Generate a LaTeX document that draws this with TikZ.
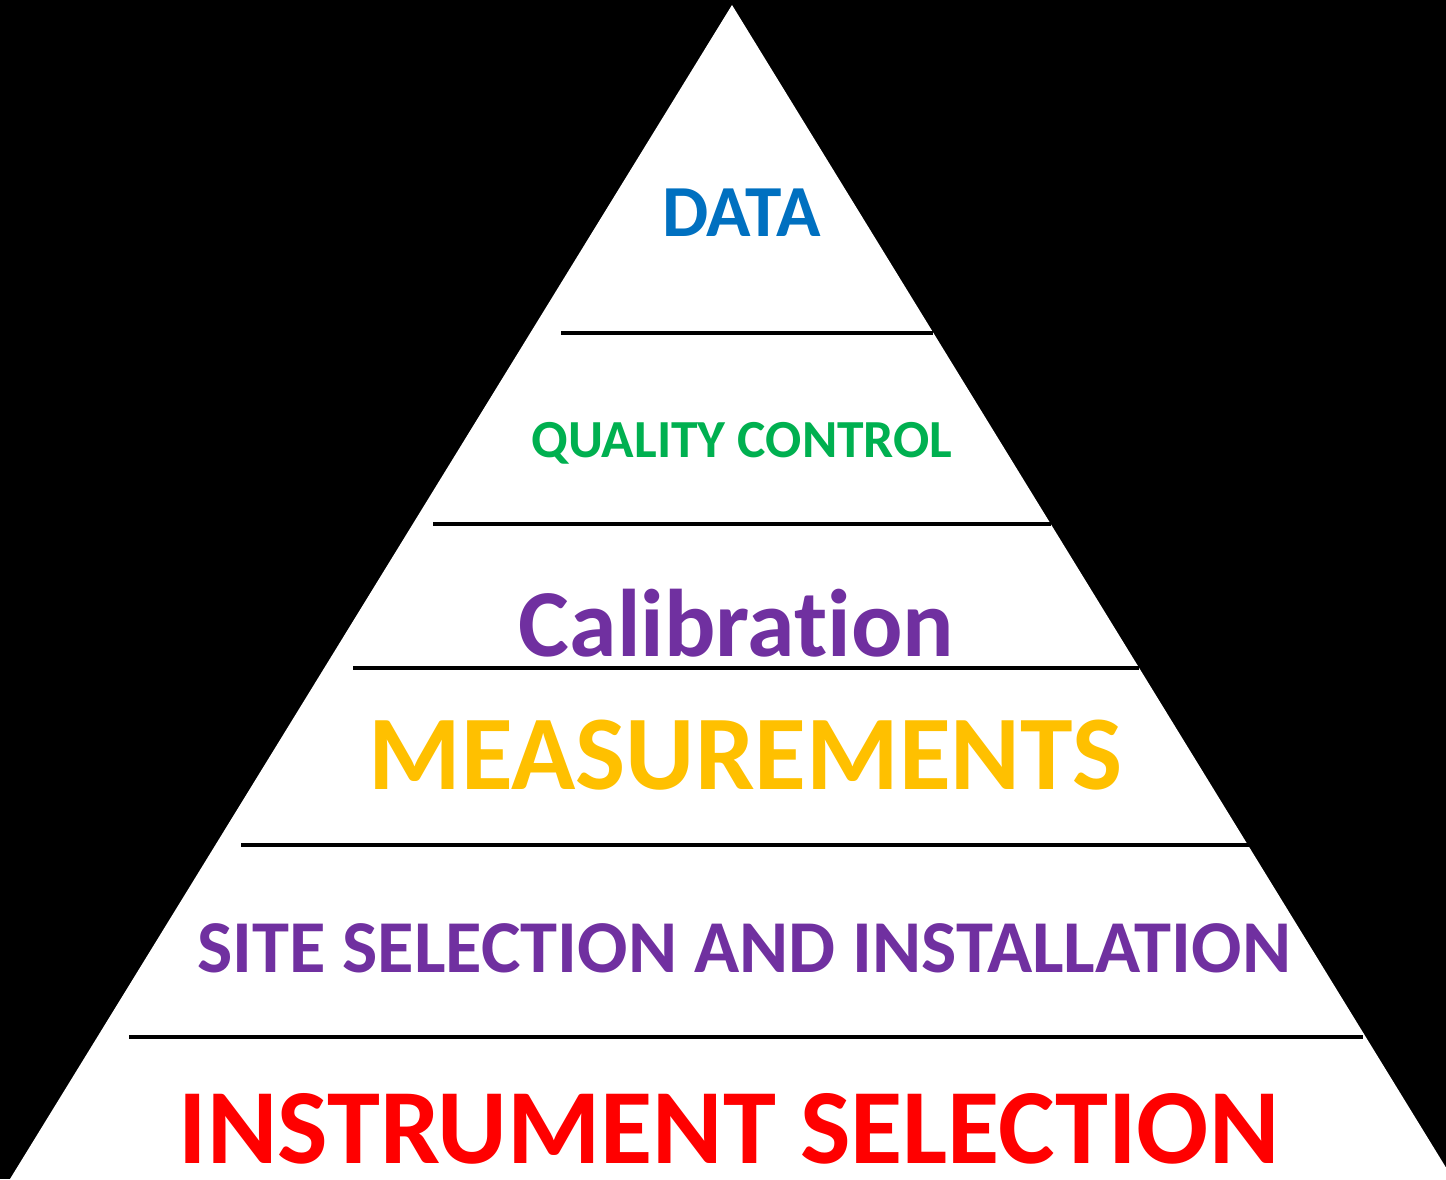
\documentclass[tikz,border=0pt]{standalone}
\usepackage{fontspec}
\setmainfont{Carlito}[Ligatures=NoCommon]
\usepackage{tikz}
\usetikzlibrary{positioning}

\definecolor{dblue}{RGB}{0,112,192}
\definecolor{qgreen}{RGB}{0,176,80}
\definecolor{cpurple}{RGB}{112,48,160}
\definecolor{mgold}{RGB}{255,192,0}
\definecolor{ired}{RGB}{255,0,0}

\begin{document}
\begin{tikzpicture}[x=0.5pt,y=0.5pt]
	\tikzstyle{level}=[anchor=base,inner sep=0pt,font=\bfseries]
	\tikzstyle{sep}=[line width=2pt,black]
		\useasboundingbox (0,0) rectangle (1446,1179);
		\clip (0,0) rectangle (1446,1179);
		\fill[black] (0,0) rectangle (1446,1179);
		% the pyramid
		\coordinate (top) at (732,1174);
		\coordinate (bl) at (10,0);
		\coordinate (br) at (1453,0);
		\fill[white] (bl) -- (top) -- (br) -- cycle;
		% separators between the levels
		\coordinate (s1a) at (561,846);
		\coordinate (s1b) at (933,846);
		\coordinate (s2a) at (433,655);
		\coordinate (s2b) at (1051,655);
		\coordinate (s3a) at (353,511);
		\coordinate (s3b) at (1139,511);
		\coordinate (s4a) at (241,334);
		\coordinate (s4b) at (1249,334);
		\coordinate (s5a) at (129,142);
		\coordinate (s5b) at (1363,142);
			\draw[sep] (s1a) -- (s1b);
			\draw[sep] (s2a) -- (s2b);
			\draw[sep] (s3a) -- (s3b);
			\draw[sep] (s4a) -- (s4b);
			\draw[sep] (s5a) -- (s5b);
		% level labels
		\node[level, text=dblue, font=\bfseries\fontsize{36.7}{40}\selectfont] (data) at (741.5,942) {DATA};
		\node[level, text=qgreen, font=\bfseries\fontsize{26.8}{30}\selectfont] (qc) at (742,721) {QUALITY CONTROL};
		\node[level, text=cpurple, font=\bfseries\fontsize{48}{54}\selectfont] (cal) at (736.5,522) {Calibration};
		\node[level, text=mgold, font=\bfseries\fontsize{53}{58}\selectfont] (meas) at (745.5,389) {MEASUREMENTS};
		\node[level, text=cpurple, font=\bfseries\fontsize{37.3}{41}\selectfont] (site) at (744,206) {SITE SELECTION AND INSTALLATION};
		\node[level, text=ired, text depth=0pt, font=\bfseries\fontsize{53.4}{58}\selectfont] (instr) at (729,16) {INSTRUMENT SELECTION};
\end{tikzpicture}
\end{document}
